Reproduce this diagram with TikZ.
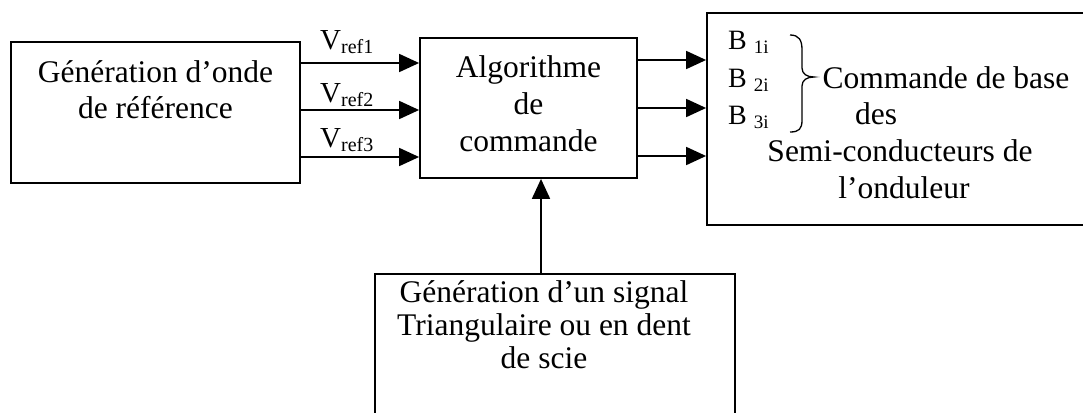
\documentclass[tikz,border=0pt]{standalone}
\usepackage{fontspec}
\setmainfont{Liberation Serif}
\usetikzlibrary{arrows.meta}
\begin{document}
\begin{tikzpicture}[x=1pt,y=-1pt,
  box/.style={draw, line width=1.8pt, inner sep=0pt},
  txt/.style={font=\fontsize{31.5}{36}\selectfont, align=center, inner sep=0pt, anchor=base},
  vlab/.style={font=\fontsize{29}{29}\selectfont, inner sep=0pt, anchor=base west},
  blab/.style={font=\fontsize{28}{28}\selectfont, inner sep=0pt, anchor=base west},
  arr/.style={line width=1.8pt, -{Triangle[length=20pt,width=18pt]}}]
\useasboundingbox (0,0) rectangle (1083,412);
\clip (0,0) rectangle (1083,412);
% boxes
\node[box, minimum width=289pt, minimum height=141pt] (L) at (155.5,112.5) {};
\node[box, minimum width=217pt, minimum height=140pt] (M) at (528.5,108) {};
\node[box, minimum width=383pt, minimum height=212pt] (R) at (898.5,119) {};
\node[box, minimum width=360pt, minimum height=146pt] (B) at (555,347) {};
% texts (base anchor = baseline of last line)
\node[txt] (Lt) at (155.5,118) {Génération d’onde\\de référence};
\node[txt, font=\fontsize{31.5}{37}\selectfont] (Mt) at (528.5,151) {Algorithme\\de\\commande};
\node[txt, font=\fontsize{31.5}{33}\selectfont] (Bt) at (544,368) {Génération d’un signal\\Triangulaire ou en dent\\de scie};
\node[txt] (R1) at (946,88) {Commande de base};
\node[txt] (R2) at (876,124) {des};
\node[txt] (R3) at (900,161) {Semi-conducteurs de};
\node[txt] (R4) at (904,198) {l’onduleur};
% B labels
\node[blab] (b1) at (728,49) {B\ \raisebox{-4pt}{\fontsize{19}{19}\selectfont 1i}};
\node[blab] (b2) at (728,87) {B\ \raisebox{-4pt}{\fontsize{19}{19}\selectfont 2i}};
\node[blab] (b3) at (728,124) {B\ \raisebox{-4pt}{\fontsize{19}{19}\selectfont 3i}};
% brace
\draw[line width=1.3pt] (790,35) .. controls (799,35) and (802,40) .. (802,50) -- (802,68)
  .. controls (802,74) and (807,77) .. (814,77) .. controls (807,77) and (802,80) .. (802,86)
  -- (802,120) .. controls (802,129) and (799,132) .. (790,132);
% V labels
\node[vlab] (v1) at (320,50) {V\raisebox{-4pt}{\fontsize{20}{20}\selectfont ref1}};
\node[vlab] (v2) at (320,102) {V\raisebox{-4pt}{\fontsize{20}{20}\selectfont ref2}};
\node[vlab] (v3) at (320,147) {V\raisebox{-4pt}{\fontsize{20}{20}\selectfont ref3}};
% arrows
\draw[arr] (L.east |- 0,63) -- (M.west |- 0,63);
\draw[arr] (L.east |- 0,110) -- (M.west |- 0,110);
\draw[arr] (L.east |- 0,157) -- (M.west |- 0,157);
\draw[arr] (M.east |- 0,60) -- (R.west |- 0,60);
\draw[arr] (M.east |- 0,108) -- (R.west |- 0,108);
\draw[arr] (M.east |- 0,156) -- (R.west |- 0,156);
\draw[arr] (B.north -| 541,0) -- (M.south -| 541,0);
\end{tikzpicture}
\end{document}
